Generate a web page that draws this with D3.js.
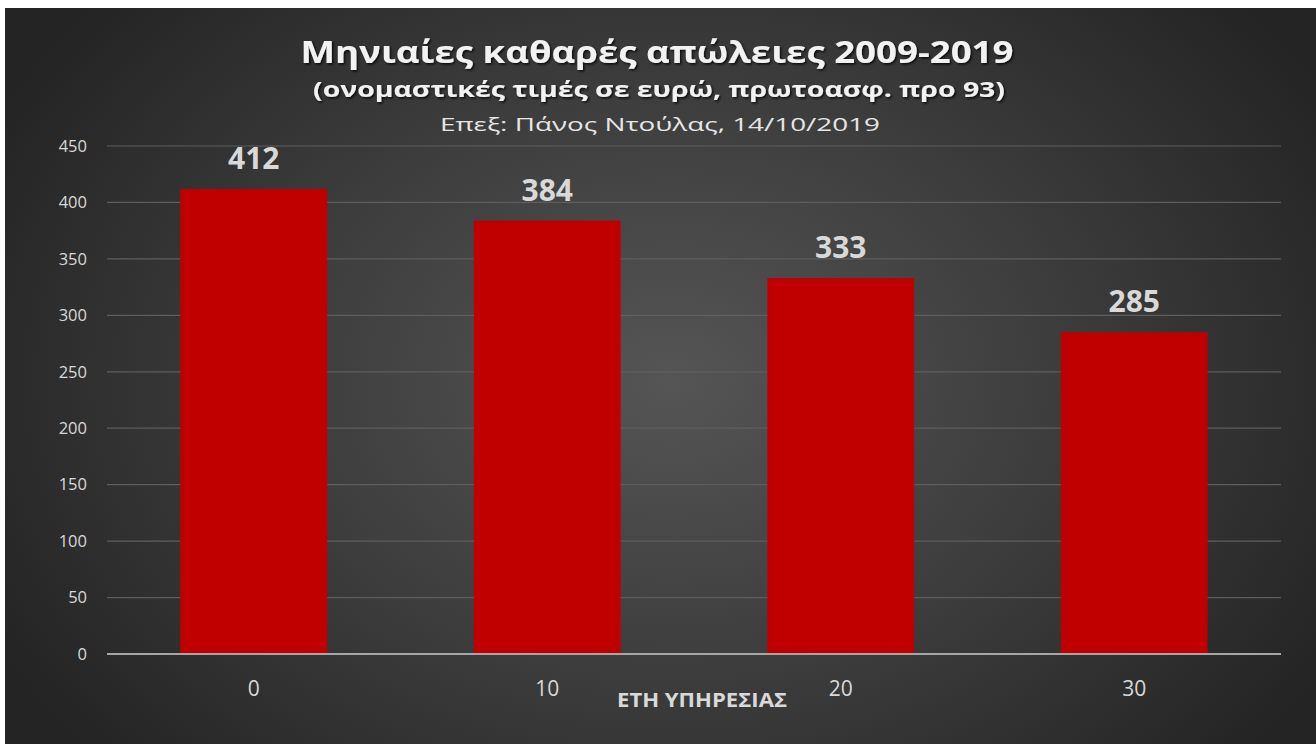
<!DOCTYPE html>
<html><head><meta charset="utf-8">
<script src="https://cdn.jsdelivr.net/npm/d3@7"></script>
<style>html,body{margin:0;padding:0;background:#fff;overflow:hidden}</style>
</head><body>
<svg id="c" width="1316" height="744"></svg>
<script>
const categories = ["0", "10", "20", "30"];
const values = [412, 384, 333, 285];
const yTicks = [0, 50, 100, 150, 200, 250, 300, 350, 400, 450];
const titleText = "Μηνιαίες καθαρές απώλειες 2009-2019";
const subtitleText = "(ονομαστικές τιμές σε ευρώ, πρωτοασφ. προ 93)";
const creditText = "Επεξ: Πάνος Ντούλας, 14/10/2019";
const xAxisTitle = "ΕΤΗ ΥΠΗΡΕΣΙΑΣ";

const svg = d3.select("#c");
const W = 1316, H = 744;
const defs = svg.append("defs");
const rg = defs.append("radialGradient").attr("id","bg")
  .attr("gradientUnits","userSpaceOnUse").attr("cx",670).attr("cy",380).attr("r",760)
  .attr("gradientTransform","translate(670,380) scale(1,0.75) translate(-670,-380)");
rg.append("stop").attr("offset","0%").attr("stop-color","#555555");
rg.append("stop").attr("offset","55%").attr("stop-color","#3b3b3b");
rg.append("stop").attr("offset","100%").attr("stop-color","#242424");
const sh = defs.append("filter").attr("id","sh").attr("x","-5%").attr("y","-30%").attr("width","110%").attr("height","160%");
sh.append("feDropShadow").attr("dx",1.5).attr("dy",1.5).attr("stdDeviation",1.2).attr("flood-color","#000").attr("flood-opacity",0.8);

svg.append("rect").attr("x",5).attr("y",8).attr("width",W-5).attr("height",H-8).attr("fill","url(#bg)");

const m = {left:107, right:1281, top:146, bottom:654};
const x = d3.scaleBand().domain(categories).range([m.left, m.right]).paddingInner(0.5).paddingOuter(0.25);
const y = d3.scaleLinear().domain([0,450]).range([m.bottom, m.top]);

// gridlines
svg.append("g").selectAll("line").data(yTicks.filter(d=>d>0)).join("line")
  .attr("x1",m.left).attr("x2",m.right).attr("y1",d=>y(d)).attr("y2",d=>y(d))
  .attr("stroke","#5e5e5e").attr("stroke-width",1.2);

// y axis labels
const yAxis = d3.axisLeft(y).tickValues(yTicks).tickSize(0).tickPadding(0);
const ya = svg.append("g").attr("transform",`translate(87,0)`).call(yAxis);
ya.select(".domain").remove();
ya.selectAll("text").attr("fill","#d9d9d9").style("font-family","'Open Sans', sans-serif").style("font-size","16.5px");

// bars
svg.append("g").selectAll("rect").data(values).join("rect")
  .attr("x",(d,i)=>x(categories[i])).attr("width",x.bandwidth())
  .attr("y",d=>y(d)).attr("height",d=>y(0)-y(d)).attr("fill","#c00000");

// zero axis line
svg.append("line").attr("x1",m.left).attr("x2",m.right).attr("y1",y(0)).attr("y2",y(0))
  .attr("stroke","#a6a6a6").attr("stroke-width",2);

// x axis labels
const xAxis = d3.axisBottom(x).tickSize(0).tickPadding(0);
const xa = svg.append("g").attr("transform",`translate(0,${y(0)+27})`).call(xAxis);
xa.select(".domain").remove();
xa.selectAll("text").attr("fill","#d9d9d9").style("font-family","'Open Sans', sans-serif").style("font-size","21px");

// value labels
svg.append("g").selectAll("text").data(values).join("text")
  .attr("x",(d,i)=>x(categories[i])+x.bandwidth()/2).attr("y",d=>y(d)-20)
  .attr("text-anchor","middle").attr("fill","#d9d9d9")
  .style("font-family","'Open Sans', sans-serif").style("font-weight","bold").style("font-size","30px")
  .text(d=>d);

// axis title
svg.append("text").attr("x",702).attr("y",707).attr("text-anchor","middle").attr("fill","#d9d9d9")
  .style("font-family","'Open Sans', sans-serif").style("font-weight","bold").style("font-size","19px")
  .attr("textLength",170).attr("lengthAdjust","spacingAndGlyphs").text(xAxisTitle);

// titles
svg.append("text").attr("x",657).attr("y",63).attr("text-anchor","middle").attr("fill","#f2f2f2")
  .attr("filter","url(#sh)")
  .style("font-family","'Open Sans', sans-serif").style("font-weight","bold").style("font-size","31px")
  .attr("textLength",713).attr("lengthAdjust","spacingAndGlyphs").text(titleText);
svg.append("text").attr("x",659).attr("y",97).attr("text-anchor","middle").attr("fill","#f2f2f2")
  .attr("filter","url(#sh)")
  .style("font-family","'Open Sans', sans-serif").style("font-weight","bold").style("font-size","22px")
  .attr("textLength",692).attr("lengthAdjust","spacingAndGlyphs").text(subtitleText);
svg.append("text").attr("x",660).attr("y",131).attr("text-anchor","middle").attr("fill","#e6e6e6")
  .style("font-family","'Open Sans', sans-serif").style("font-size","19px")
  .attr("textLength",440).attr("lengthAdjust","spacingAndGlyphs").text(creditText);
</script>
</body></html>
